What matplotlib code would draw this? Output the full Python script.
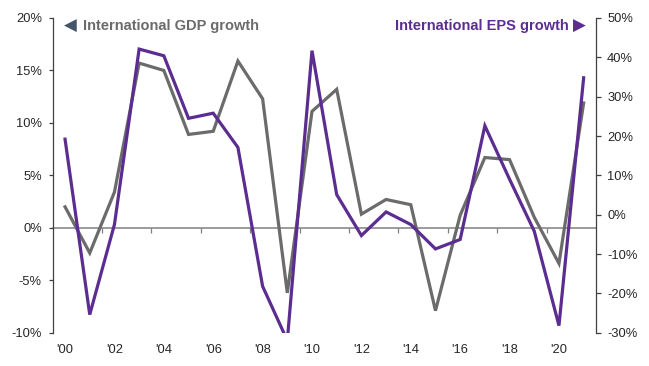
import matplotlib.pyplot as plt
import numpy as np

plt.rcParams['font.family'] = ['Liberation Sans', 'DejaVu Sans']

years = list(range(2000, 2022))
gdp_growth = [2.0, -2.4, 3.4, 15.7, 15.0, 8.9, 9.2, 15.9, 12.3, -6.2, 11.1,
              13.2, 1.3, 2.7, 2.2, -7.9, 1.2, 6.7, 6.5, 1.0, -3.4, 11.9]
eps_growth = [19.2, -25.4, -2.5, 42.1, 40.4, 24.5, 25.8, 17.1, -18.2, -32.0, 41.7,
              5.1, -5.3, 0.7, -2.5, -8.7, -6.3, 22.6, 9.0, -4.2, -28.2, 34.8]
tick_labels = ["'" + str(y)[2:] for y in years[::2]]

gray = '#6b6b6b'
purple = '#5c2d91'
axis_col = '#404040'

fig = plt.figure(figsize=(6.49, 3.66), dpi=100)
ax = fig.add_axes([52.7 / 649, 1 - 332.7 / 366, 543.3 / 649, 314.7 / 366])
ax2 = ax.twinx()

x = np.arange(len(years))
ax.plot(x, gdp_growth, color=gray, lw=2.3, solid_joinstyle='miter')
ax2.plot(x, eps_growth, color=purple, lw=2.3, solid_joinstyle='miter')

ax.set_xlim(-0.5, len(years) - 0.5)
ax.set_ylim(-10, 20)
ax2.set_ylim(-30, 50)
ax.set_yticks(range(-10, 21, 5))
ax.set_yticklabels([f'{v}%' for v in range(-10, 21, 5)])
ax2.set_yticks(range(-30, 51, 10))
ax2.set_yticklabels([f'{v}%' for v in range(-30, 51, 10)])

ax.set_xticks(x[::2])
ax.set_xticklabels(tick_labels)
ax.tick_params(axis='x', length=0, pad=8, labelsize=9.3, colors='#262626')
ax.tick_params(axis='y', length=3, width=0.9, pad=4.8, labelsize=9.3,
               colors=axis_col, labelcolor='#262626')
ax2.tick_params(axis='y', length=3.5, width=0.9, pad=4.5, labelsize=9.3,
                colors=axis_col, labelcolor='#262626')

for a in (ax, ax2):
    a.spines['top'].set_visible(False)
    a.spines['bottom'].set_visible(False)
ax2.spines['left'].set_visible(False)
ax.spines['right'].set_visible(False)
ax.spines['left'].set_color(axis_col)
ax2.spines['right'].set_color(axis_col)
ax.spines['left'].set_linewidth(0.9)
ax2.spines['right'].set_linewidth(0.9)

# zero line with category tick marks
lo, hi = ax.get_ylim()
zero = ax.secondary_xaxis((0 - lo) / (hi - lo))
zero.set_xticks(x[1:-1:2] + 0.5)
zero.set_xticklabels([])
zero.tick_params(length=3.5, width=0.9, colors='#808080', direction='out')
zero.spines['bottom'].set_color('#808080')
zero.spines['bottom'].set_linewidth(1.1)

ax2.set_zorder(ax.get_zorder() + 1)

ax.text(0.0328, 0.974, '\u25C0', transform=ax.transAxes, ha='center', va='center',
        color='#44546a', fontsize=12, family='DejaVu Sans')
ax.text(0.0563, 0.974, 'International GDP growth', transform=ax.transAxes,
        ha='left', va='center', color=gray, fontsize=10.5, fontweight='bold')
ax.text(0.949, 0.974, 'International EPS growth', transform=ax.transAxes,
        ha='right', va='center', color=purple, fontsize=10.5, fontweight='bold')
ax.text(0.9687, 0.974, '\u25B6', transform=ax.transAxes, ha='center', va='center',
        color=purple, fontsize=12, family='DejaVu Sans')

fig.savefig('out.png', dpi=100)
